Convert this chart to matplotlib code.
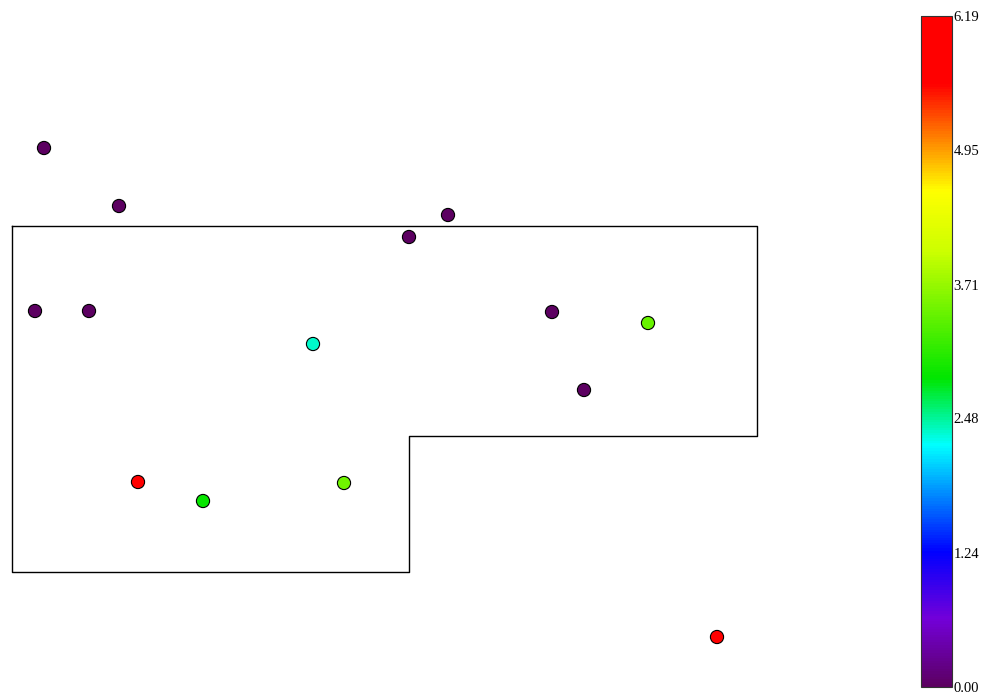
import numpy as np
import matplotlib
matplotlib.use("Agg")
import matplotlib.pyplot as plt
from matplotlib.colors import LinearSegmentedColormap, Normalize

# sample locations (map units) and measured values
x = [4.4, 11.9, 3.5, 8.9, 40.9, 44.8, 31.3, 55.2, 64.8, 58.4, 13.8, 20.3, 34.4, 71.7]
y = [55.0, 49.2, 38.7, 38.7, 46.1, 48.3, 35.4, 38.6, 37.5, 30.8, 21.6, 19.7, 21.5, 6.1]
values = [0.02, 0.02, 0.02, 0.02, 0.02, 0.02, 2.35, 0.02, 3.45, 0.02, 6.0, 2.9, 3.5, 6.19]

# study area boundary
boundary_x = [1.2, 75.7, 75.7, 40.9, 40.9, 1.2, 1.2]
boundary_y = [47.2, 47.2, 26.2, 26.2, 12.6, 12.6, 47.2]

vmin, vmax = 0.0, 6.19
ticks = [0.00, 1.24, 2.48, 3.71, 4.95, 6.19]

cmap = LinearSegmentedColormap.from_list("rainbow_purple", [
    (0.00, (0.36, 0.0, 0.38)),
    (0.10, (0.45, 0.0, 0.85)),
    (0.20, (0.0, 0.0, 1.0)),
    (0.36, (0.0, 1.0, 1.0)),
    (0.46, (0.0, 0.9, 0.0)),
    (0.65, (0.8, 1.0, 0.0)),
    (0.74, (1.0, 1.0, 0.0)),
    (0.82, (1.0, 0.5, 0.0)),
    (0.90, (1.0, 0.0, 0.0)),
    (1.00, (1.0, 0.0, 0.0)),
])
norm = Normalize(vmin, vmax)

fig = plt.figure(figsize=(9.93, 6.98), dpi=100)
ax = fig.add_axes([0, 0, 1, 1])
ax.set_xlim(0, 99.3)
ax.set_ylim(0, 69.8)
ax.axis("off")

ax.plot(boundary_x, boundary_y, color="black", lw=1.0)
ax.scatter(x, y, c=values, cmap=cmap, norm=norm, s=90,
           edgecolors="black", linewidths=0.8, zorder=3)

cax = fig.add_axes([921 / 993, 11 / 698, 31 / 993, 671 / 698])
cb = fig.colorbar(plt.cm.ScalarMappable(norm=norm, cmap=cmap), cax=cax, ticks=ticks)
cb.outline.set_linewidth(0.8)
cb.outline.set_edgecolor("#333333")
cax.tick_params(length=0, pad=1)
cax.set_yticklabels(["%.2f" % t for t in ticks], fontfamily="Liberation Serif", fontsize=10.5)

fig.savefig("out.png", dpi=100)
